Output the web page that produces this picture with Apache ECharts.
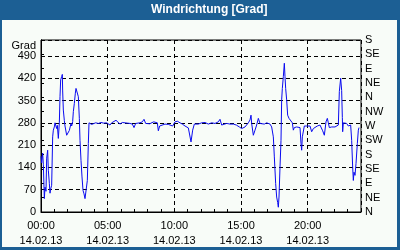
<!DOCTYPE html>
<html><head><meta charset="utf-8">
<script src="https://cdn.jsdelivr.net/npm/echarts@6/dist/echarts.min.js"></script>
<style>html,body{margin:0;padding:0;background:#1c5f94;}#c{width:400px;height:250px;}</style>
</head><body><div id="c"></div>
<script>
var titleText = 'Windrichtung [Grad]';
var yName = 'Grad';
var dateLabel = '14.02.13';
var xTickLabels = ['00:00','05:00','10:00','15:00','20:00'];
var rightLabels = ['N','NE','E','SE','S','SW','W','NW','N','NE','E','SE','S'];
var times = [0.0,0.05,0.125,0.175,0.25,0.3,0.375,0.425,0.5,0.55,0.625,0.675,0.725,0.8,0.875,0.925,1.0,1.05,1.125,1.175,1.225,1.3,1.375,1.425,1.475,1.55,1.6,1.625,1.675,1.75,1.8,1.925,2.0,2.125,2.25,2.3,2.375,2.425,2.5,2.575,2.625,2.75,2.8,2.875,2.925,3.0,3.075,3.15,3.225,3.3,3.375,3.425,3.475,3.55,3.6,3.675,3.8,3.925,4.1,4.3,4.5,4.7,4.925,5.05,5.175,5.3,5.45,5.625,5.75,5.925,6.1,6.3,6.5,6.675,6.85,6.975,7.1,7.25,7.425,7.6,7.725,7.85,8.0,8.15,8.3,8.45,8.55,8.725,8.8,8.9,9.05,9.3,9.55,9.675,9.875,10.05,10.225,10.425,10.6,10.8,11.05,11.175,11.25,11.375,11.5,11.8,12.05,12.3,12.55,12.8,13.05,13.3,13.425,13.55,13.7,13.925,14.175,14.425,14.65,14.875,15.05,15.175,15.3,15.425,15.55,15.675,15.75,15.8,15.85,15.925,16.05,16.175,16.3,16.425,16.55,16.75,16.925,17.175,17.3,17.35,17.425,17.5,17.6,17.675,17.75,17.8,17.85,17.925,18.0,18.05,18.1,18.175,18.25,18.3,18.35,18.425,18.5,18.6,18.75,18.85,18.925,19.0,19.175,19.425,19.5,19.55,19.6,19.675,19.75,19.925,20.05,20.175,20.3,20.425,20.55,20.725,20.925,21.0,21.125,21.25,21.375,21.475,21.55,21.625,21.8,22.05,22.3,22.375,22.475,22.55,22.6,22.625,22.675,22.925,23.05,23.175,23.225,23.3,23.375,23.425,23.475,23.55,23.625,23.725,23.8,23.85];
var values = [175,154,185,150,42,78,65,169,194,131,90,59,72,84,236,257,267,280,286,262,272,231,280,362,415,425,432,380,320,287,270,241,238,256,278,270,284,315,341,373,388,388,362,294,225,162,110,68,57,42,36,37,99,215,280,281,275,279,280,278,281,279,280,278,273,280,282,288,283,276,281,280,279,278,276,265,278,281,280,283,291,278,277,277,276,283,285,280,255,270,276,276,275,273,270,283,285,280,276,270,264,258,220,257,276,276,280,281,276,280,278,283,291,273,276,278,276,276,273,267,262,257,267,273,280,289,304,278,273,241,257,273,294,278,273,276,280,276,267,262,236,173,89,47,30,15,47,141,225,352,388,425,467,425,388,352,304,294,290,280,257,265,267,265,215,194,236,236,270,270,265,270,252,262,267,270,273,278,255,241,283,294,280,265,267,267,273,378,420,381,297,252,280,278,270,265,273,225,141,99,125,115,152,215,257,265];

var font = 'Liberation Sans';
var chart = echarts.init(document.getElementById('c'), null, {renderer:'canvas'});
var dash = {color:'#000', width:1, type:[4,3]};
chart.setOption({
  animation:false,
  backgroundColor:'#1c5f94',
  graphic:[
    {type:'rect', z:-100, silent:true, shape:{x:2,y:20,width:395,height:227}, style:{fill:'#f8fcf8'}},
    {type:'text', z:10, silent:true, x:36, y:46, style:{text:yName, fill:'#000', font:'11px "Liberation Sans"', align:'right', verticalAlign:'middle'}}
  ],
  title:{text:titleText, left:151, top:3, padding:0,
    textStyle:{color:'#fff', fontFamily:font, fontWeight:'bold', fontSize:12, lineHeight:14}},
  grid:{left:41, right:39, top:40, bottom:38, show:true, borderColor:'#000', borderWidth:1, backgroundColor:'transparent'},
  xAxis:[{type:'value', min:0, max:24, interval:5,
    axisLine:{show:true, lineStyle:{color:'#000'}}, axisTick:{show:false},
    splitLine:{show:true, lineStyle:dash},
    axisLabel:{margin:6, color:'#000', fontFamily:font, fontSize:11, lineHeight:15, showMaxLabel:false,
      formatter:function(v){var i=Math.round(v/5); return (xTickLabels[i]||'')+'\n'+dateLabel;}}},
   {type:'value', min:0, max:24, interval:1, position:'bottom',
    axisLine:{show:false}, axisTick:{show:true, inside:true, length:3, lineStyle:{color:'#000'}},
    axisLabel:{show:false}, splitLine:{show:false}}],
  yAxis:[{type:'value', min:0, max:540, interval:70,
    axisLine:{show:true, lineStyle:{color:'#000'}}, axisTick:{show:false},
    splitLine:{show:true, lineStyle:dash},
    axisLabel:{margin:5, color:'#000', fontFamily:font, fontSize:11, showMaxLabel:false}},
   {type:'value', min:0, max:540, interval:45, position:'right',
    axisLine:{show:true, lineStyle:{color:'#000'}}, axisTick:{show:true, length:3, lineStyle:{color:'#000'}},
    splitLine:{show:false},
    axisLabel:{margin:4, color:'#000', fontFamily:font, fontSize:11,
      formatter:function(v){return rightLabels[Math.round(v/45)];}}}],
  series:[{type:'line', xAxisIndex:0, yAxisIndex:0, showSymbol:false, symbol:'none',
    lineStyle:{color:'#0a0af0', width:1}, data:times.map(function(t,i){return [t, values[i]];})}]
});
</script></body></html>
